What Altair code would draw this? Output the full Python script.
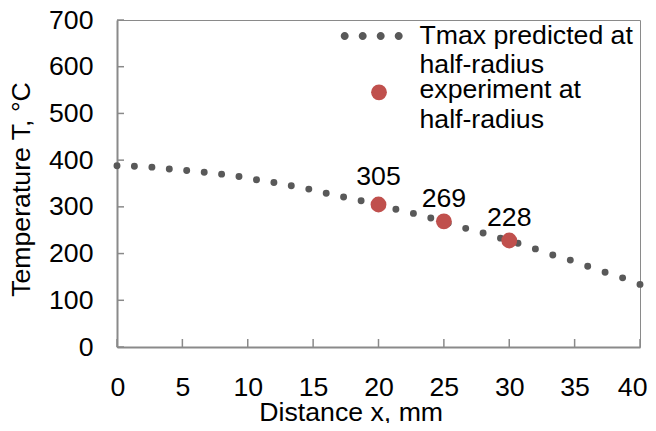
import altair as alt
import pandas as pd

# ---- data ----
pred_x = [0, 1.33, 2.67, 4, 5.33, 6.67, 8, 9.33, 10.67, 12, 13.33, 14.67, 16, 17.33,
          18.67, 20, 21.33, 22.67, 24, 25.33, 26.67, 28, 29.33, 30.67, 32, 33.33,
          34.67, 36, 37.33, 38.67, 40]
pred_t = [388, 387, 385, 381, 378, 374, 370, 365, 358, 352, 345, 338, 329, 321,
          313, 305, 295, 286, 276, 265, 254, 244, 233, 222, 210, 197, 186, 173,
          160, 148, 134]
exp_x = [20, 25, 30]
exp_t = [305, 269, 228]
exp_labels = ["305", "269", "228"]
x_ticks = [0, 5, 10, 15, 20, 25, 30, 35, 40]
y_ticks = [0, 100, 200, 300, 400, 500, 600, 700]
legend_pred = "Tmax predicted at\nhalf-radius"
legend_exp = "experiment at\nhalf-radius"

FONT = "Liberation Sans"
FS = 26.67
AXIS_GRAY = "#8a8a8a"
DOT_GRAY = "#595959"
RED = "#C0504D"
W, H = 523, 327

pred = pd.DataFrame({"x": pred_x, "t": pred_t})
exp = pd.DataFrame({"x": exp_x, "t": exp_t, "label": exp_labels})
xt = pd.DataFrame({"x": x_ticks})
yt = pd.DataFrame({"t": y_ticks})

xscale = alt.Scale(domain=[0, 40], nice=False, zero=False)
yscale = alt.Scale(domain=[0, 700], nice=False)

xaxis = alt.Axis(values=x_ticks, title="Distance x, mm", ticks=False, tickSize=0,
                 labelPadding=27, labelFlush=1, labelFlushOffset=7, grid=False,
                 domainColor=AXIS_GRAY, domainWidth=2, titleX=233.7, titleY=73.5,
                 titleBaseline="alphabetic", titleAlign="center")
yaxis = alt.Axis(values=y_ticks, title="Temperature T, °C", ticks=False, tickSize=0,
                 labelPadding=24, labelFlush=False, grid=False, domainColor=AXIS_GRAY,
                 domainWidth=2, titleAngle=270, titleX=-87.3, titleY=169,
                 titleBaseline="alphabetic", titleAlign="center")

base_pred = alt.Chart(pred).mark_circle(size=48, color=DOT_GRAY, opacity=1).encode(
    x=alt.X("x:Q", scale=xscale, axis=xaxis),
    y=alt.Y("t:Q", scale=yscale, axis=yaxis),
)

exp_pts = alt.Chart(exp).mark_circle(size=250, color=RED, opacity=1).encode(
    x=alt.X("x:Q", scale=xscale),
    y=alt.Y("t:Q", scale=yscale),
)

lab_first = alt.Chart(exp).transform_filter("datum.x == 20").mark_text(
    font=FONT, fontSize=FS, color="black", baseline="alphabetic", dy=-20
).encode(x=alt.X("x:Q", scale=xscale), y=alt.Y("t:Q", scale=yscale), text="label:N")

lab_rest = alt.Chart(exp).transform_filter("datum.x != 20").mark_text(
    font=FONT, fontSize=FS, color="black", baseline="alphabetic", dy=-14
).encode(x=alt.X("x:Q", scale=xscale), y=alt.Y("t:Q", scale=yscale), text="label:N")

# inside ticks
yticks = alt.Chart(yt).mark_rule(color=AXIS_GRAY, strokeWidth=1.5).encode(
    y=alt.Y("t:Q", scale=yscale), x=alt.value(0), x2=alt.value(7))
xticks = alt.Chart(xt).mark_rule(color=AXIS_GRAY, strokeWidth=1.5).encode(
    x=alt.X("x:Q", scale=xscale), y=alt.value(H), y2=alt.value(H - 8))

# legend
dots_path = ("M-31,0 a4,4 0 1,0 8,0 a4,4 0 1,0 -8,0 "
             "M-13,0 a4,4 0 1,0 8,0 a4,4 0 1,0 -8,0 "
             "M5,0 a4,4 0 1,0 8,0 a4,4 0 1,0 -8,0 "
             "M23,0 a4,4 0 1,0 8,0 a4,4 0 1,0 -8,0 Z")
leg_df1 = pd.DataFrame({"label": [legend_pred]})
leg_df2 = pd.DataFrame({"label": [legend_exp]})

leg_sym1 = alt.Chart(leg_df1).mark_point(shape=dots_path, size=4, filled=True,
                                          color=DOT_GRAY, opacity=1, strokeWidth=0).encode(
    x=alt.value(254.7), y=alt.value(16))
leg_txt1 = alt.Chart(leg_df1).mark_text(font=FONT, fontSize=FS, color="black", align="left",
                                         baseline="alphabetic", lineBreak="\n",
                                         lineHeight=29.3).encode(
    text="label:N", x=alt.value(302.5), y=alt.value(24))
leg_sym2 = alt.Chart(leg_df2).mark_circle(size=250, color=RED, opacity=1).encode(
    x=alt.value(262), y=alt.value(72.3))
leg_txt2 = alt.Chart(leg_df2).mark_text(font=FONT, fontSize=FS, color="black", align="left",
                                         baseline="alphabetic", lineBreak="\n",
                                         lineHeight=30).encode(
    text="label:N", x=alt.value(302.5), y=alt.value(78.3))

chart = alt.layer(
    base_pred, exp_pts, lab_first, lab_rest, yticks, xticks,
    leg_sym1, leg_txt1, leg_sym2, leg_txt2
).properties(
    width=W, height=H,
    autosize=alt.AutoSizeParams(type="none"),
    padding={"left": 109, "top": 12, "right": 8, "bottom": 76},
).configure_view(
    stroke=AXIS_GRAY, strokeWidth=1
).configure_axis(
    labelFont=FONT, titleFont=FONT, labelFontSize=FS, titleFontSize=FS,
    labelColor="black", titleColor="black", titleFontWeight="normal"
)

chart.save("out.html", embed_options={"renderer": "svg", "actions": False})
